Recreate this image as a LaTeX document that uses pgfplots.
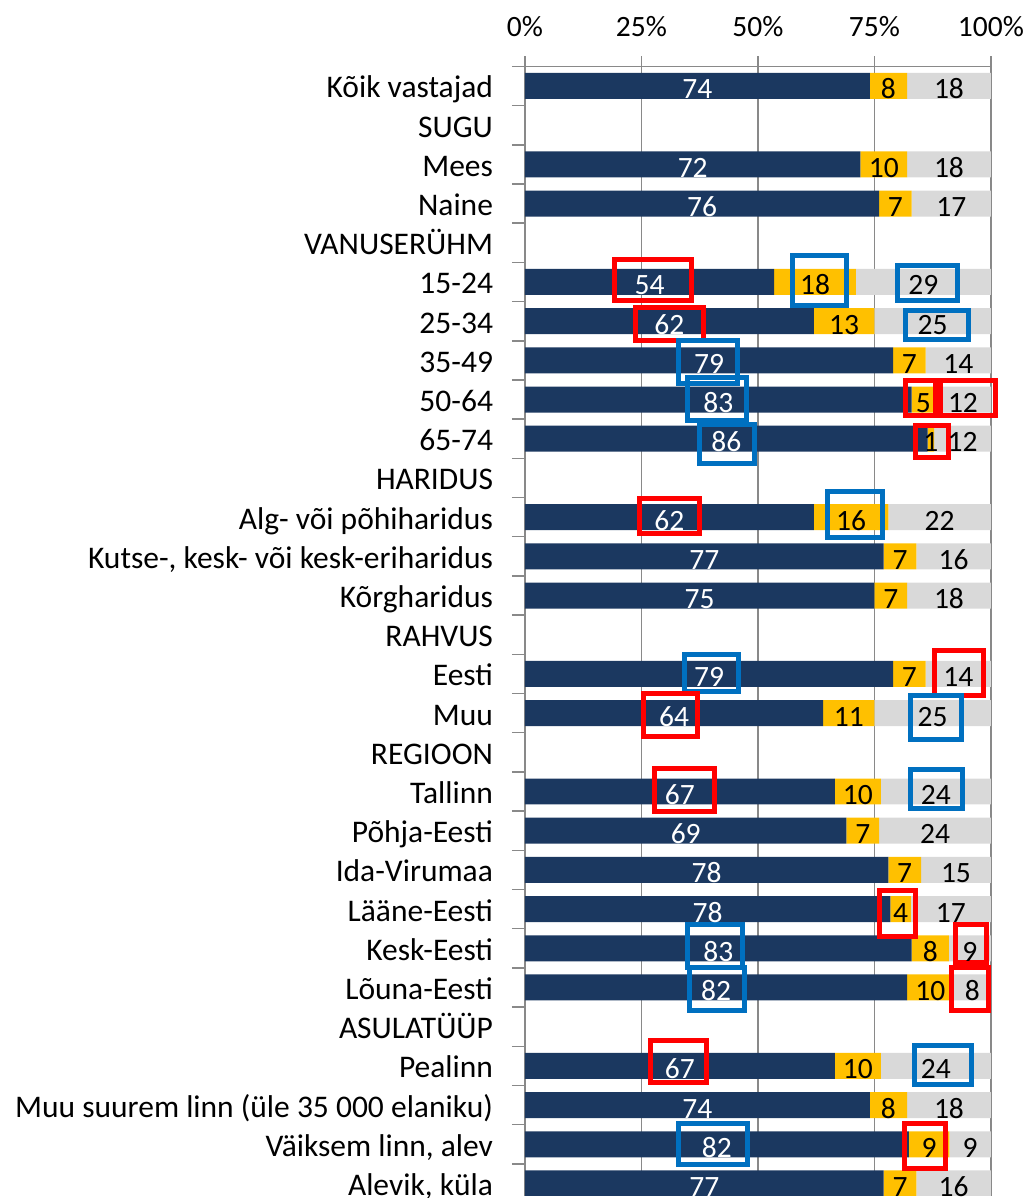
\documentclass[border=0pt]{standalone}
\usepackage{fontspec}
\setmainfont{Carlito}
\usepackage{pgfplots}
\usepackage{pgfplotstable}
\pgfplotsset{compat=1.18}
\definecolor{navy}{HTML}{1B3860}
\definecolor{gold}{HTML}{FFC000}
\definecolor{lgray}{HTML}{D9D9D9}
\definecolor{axgray}{HTML}{898989}
\definecolor{bred}{HTML}{FF0000}
\definecolor{bblue}{HTML}{0070C0}
% a,b,c: bar lengths; la,lb,lc: printed labels
\pgfplotstableread{
row a b c la lb lc
28 74 8 18 74 8 18
26 72 10 18 72 10 18
25 76 7 17 76 7 17
23 53.5 17.5 29 54 18 29
22 62 13 25 62 13 25
21 79 7 14 79 7 14
20 83 5 12 83 5 12
19 86.4 1.4 12.2 86 1 12
17 62 16 22 62 16 22
16 77 7 16 77 7 16
15 75 7 18 75 7 18
13 79 7 14 79 7 14
12 64 11 25 64 11 25
10 66.5 9.9 23.6 67 10 24
9 69 7 24 69 7 24
8 78 7 15 78 7 15
7 78.4 4.4 17.2 78 4 17
6 83 8 9 83 8 9
5 82 10 8 82 10 8
3 66.5 9.9 23.6 67 10 24
2 74 8 18 74 8 18
1 82.4 8.7 8.9 82 9 9
0 77 7 16 77 7 16
}\datatab
\newcommand\lfont{\fontsize{31.5}{36}\selectfont}
\newcommand\nfont{\fontsize{29.5}{34}\selectfont}
\pgfplotsset{common/.style={
  scale only axis, width=466pt, height=1129.7pt,
  xmin=0, xmax=100, ymin=-0.32, ymax=28.5}}
\tikzset{hl/.style={line width=5pt}}
\begin{document}
\begin{tikzpicture}
\begin{axis}[common, name=ax,
  xbar stacked, bar width=26pt,
  axis x line*=top, axis y line*=left,
  axis line style={draw=axgray, line width=1.5pt},
  tick align=outside,
  xtick={0,25,50,75,100}, xticklabels={0\%,25\%,50\%,75\%,100\%},
  major tick length=10pt, minor tick length=13pt,
  xmajorgrids, grid style={draw=axgray, line width=1.5pt},
  major x tick style={draw=axgray, line width=1.5pt},
  major y tick style={draw=none},
  minor y tick style={draw=axgray, line width=1.5pt},
  ytick={0,...,28},
  minor ytick={0.5,1.5,...,28.5},
  yticklabels={{Alevik, küla},{Väiksem linn, alev},{Muu suurem linn (üle 35 000 elaniku)},Pealinn,ASULATÜÜP,Lõuna-Eesti,Kesk-Eesti,Lääne-Eesti,Ida-Virumaa,Põhja-Eesti,Tallinn,REGIOON,Muu,Eesti,RAHVUS,Kõrgharidus,{Kutse-, kesk- või kesk-eriharidus},{Alg- või põhiharidus},HARIDUS,65-74,50-64,35-49,25-34,15-24,VANUSERÜHM,Naine,Mees,SUGU,Kõik vastajad},
  yticklabel style={font=\lfont, anchor=base east, inner sep=0pt, outer sep=0pt, xshift=-22pt, yshift=-12pt},
  xticklabel style={font=\nfont, anchor=base, inner sep=0pt, outer sep=0pt, yshift=19.5pt},
]
\addplot[fill=navy, draw=none] table[x=a, y=row]{\datatab};
\addplot[fill=gold, draw=none] table[x=b, y=row]{\datatab};
\addplot[fill=lgray, draw=none] table[x=c, y=row]{\datatab};
\end{axis}
\begin{axis}[common, hide axis, clip=false,
  nodes near coords, point meta=explicit symbolic,
  every node near coord/.append style={font=\nfont, anchor=base, inner sep=0pt, outer sep=0pt, yshift=-13pt}]
\addplot[draw=none, mark=none, every node near coord/.append style={text=white}] table[x expr=\thisrow{a}/2, y=row, meta=la]{\datatab};
\addplot[draw=none, mark=none, every node near coord/.append style={text=black}] table[x expr=\thisrow{a}+\thisrow{b}/2, y=row, meta=lb]{\datatab};
\addplot[draw=none, mark=none, every node near coord/.append style={text=black}] table[x expr=\thisrow{a}+\thisrow{b}+\thisrow{c}/2, y=row, meta=lc]{\datatab};
% highlight boxes (outer edges given)
\draw[bred, hl] ([xshift=2.5pt,yshift=-2.5pt]axis cs:18.67,23.64) rectangle ([xshift=-2.5pt,yshift=2.5pt]axis cs:36.27,22.46);
\draw[bblue, hl] ([xshift=2.5pt,yshift=-2.5pt]axis cs:56.87,23.74) rectangle ([xshift=-2.5pt,yshift=2.5pt]axis cs:69.53,22.34);
\draw[bblue, hl] ([xshift=2.5pt,yshift=-2.5pt]axis cs:79.40,23.48) rectangle ([xshift=-2.5pt,yshift=2.5pt]axis cs:93.35,22.46);
\draw[bred, hl] ([xshift=2.5pt,yshift=-2.5pt]axis cs:23.18,22.41) rectangle ([xshift=-2.5pt,yshift=2.5pt]axis cs:38.84,21.44);
\draw[bblue, hl] ([xshift=2.5pt,yshift=-2.5pt]axis cs:81.12,22.34) rectangle ([xshift=-2.5pt,yshift=2.5pt]axis cs:95.71,21.47);
\draw[bblue, hl] ([xshift=2.5pt,yshift=-2.5pt]axis cs:32.40,21.57) rectangle ([xshift=-2.5pt,yshift=2.5pt]axis cs:46.14,20.35);
\draw[bblue, hl] ([xshift=2.5pt,yshift=-2.5pt]axis cs:34.33,20.63) rectangle ([xshift=-2.5pt,yshift=2.5pt]axis cs:48.07,19.40);
\draw[bred, hl] ([xshift=2.5pt,yshift=-2.5pt]axis cs:81.12,20.55) rectangle ([xshift=-2.5pt,yshift=2.5pt]axis cs:88.63,19.53);
\draw[bred, hl] ([xshift=2.5pt,yshift=-2.5pt]axis cs:88.63,20.55) rectangle ([xshift=-2.5pt,yshift=2.5pt]axis cs:101.50,19.53);
\draw[bblue, hl] ([xshift=2.5pt,yshift=-2.5pt]axis cs:36.91,19.43) rectangle ([xshift=-2.5pt,yshift=2.5pt]axis cs:49.79,18.31);
\draw[bred, hl] ([xshift=2.5pt,yshift=-2.5pt]axis cs:83.26,19.40) rectangle ([xshift=-2.5pt,yshift=2.5pt]axis cs:91.42,18.46);
\draw[bred, hl] ([xshift=2.5pt,yshift=-2.5pt]axis cs:24.03,17.54) rectangle ([xshift=-2.5pt,yshift=2.5pt]axis cs:37.98,16.52);
\draw[bblue, hl] ([xshift=2.5pt,yshift=-2.5pt]axis cs:64.38,17.72) rectangle ([xshift=-2.5pt,yshift=2.5pt]axis cs:77.25,16.42);
\draw[bred, hl] ([xshift=2.5pt,yshift=-2.5pt]axis cs:87.34,13.66) rectangle ([xshift=-2.5pt,yshift=2.5pt]axis cs:98.93,12.39);
\draw[bblue, hl] ([xshift=2.5pt,yshift=-2.5pt]axis cs:33.69,13.56) rectangle ([xshift=-2.5pt,yshift=2.5pt]axis cs:46.35,12.49);
\draw[bred, hl] ([xshift=2.5pt,yshift=-2.5pt]axis cs:24.89,12.57) rectangle ([xshift=-2.5pt,yshift=2.5pt]axis cs:37.55,11.34);
\draw[bblue, hl] ([xshift=2.5pt,yshift=-2.5pt]axis cs:82.19,12.52) rectangle ([xshift=-2.5pt,yshift=2.5pt]axis cs:94.21,11.27);
\draw[bred, hl] ([xshift=2.5pt,yshift=-2.5pt]axis cs:27.25,10.65) rectangle ([xshift=-2.5pt,yshift=2.5pt]axis cs:41.20,9.43);
\draw[bblue, hl] ([xshift=2.5pt,yshift=-2.5pt]axis cs:82.19,10.63) rectangle ([xshift=-2.5pt,yshift=2.5pt]axis cs:94.42,9.50);
\draw[bred, hl] ([xshift=2.5pt,yshift=-2.5pt]axis cs:75.54,7.54) rectangle ([xshift=-2.5pt,yshift=2.5pt]axis cs:84.33,6.24);
\draw[bred, hl] ([xshift=2.5pt,yshift=-2.5pt]axis cs:91.85,6.67) rectangle ([xshift=-2.5pt,yshift=2.5pt]axis cs:99.57,5.58);
\draw[bred, hl] ([xshift=2.5pt,yshift=-2.5pt]axis cs:90.99,5.58) rectangle ([xshift=-2.5pt,yshift=2.5pt]axis cs:100.0,4.35);
\draw[bblue, hl] ([xshift=2.5pt,yshift=-2.5pt]axis cs:34.33,6.67) rectangle ([xshift=-2.5pt,yshift=2.5pt]axis cs:47.21,5.45);
\draw[bblue, hl] ([xshift=2.5pt,yshift=-2.5pt]axis cs:34.76,5.58) rectangle ([xshift=-2.5pt,yshift=2.5pt]axis cs:47.64,4.35);
\draw[bred, hl] ([xshift=2.5pt,yshift=-2.5pt]axis cs:26.39,3.71) rectangle ([xshift=-2.5pt,yshift=2.5pt]axis cs:39.48,2.51);
\draw[bblue, hl] ([xshift=2.5pt,yshift=-2.5pt]axis cs:83.05,3.58) rectangle ([xshift=-2.5pt,yshift=2.5pt]axis cs:96.35,2.46);
\draw[bblue, hl] ([xshift=2.5pt,yshift=-2.5pt]axis cs:32.40,1.60) rectangle ([xshift=-2.5pt,yshift=2.5pt]axis cs:48.28,0.41);
\draw[bred, hl] ([xshift=2.5pt,yshift=-2.5pt]axis cs:80.97,1.60) rectangle ([xshift=-2.5pt,yshift=2.5pt]axis cs:90.71,0.32);
\end{axis}
\pgfresetboundingbox
\path[use as bounding box] ([xshift=-525pt,yshift=-2pt]ax.south west) rectangle ([xshift=37pt,yshift=66.4pt]ax.north east);
\end{tikzpicture}
\end{document}
